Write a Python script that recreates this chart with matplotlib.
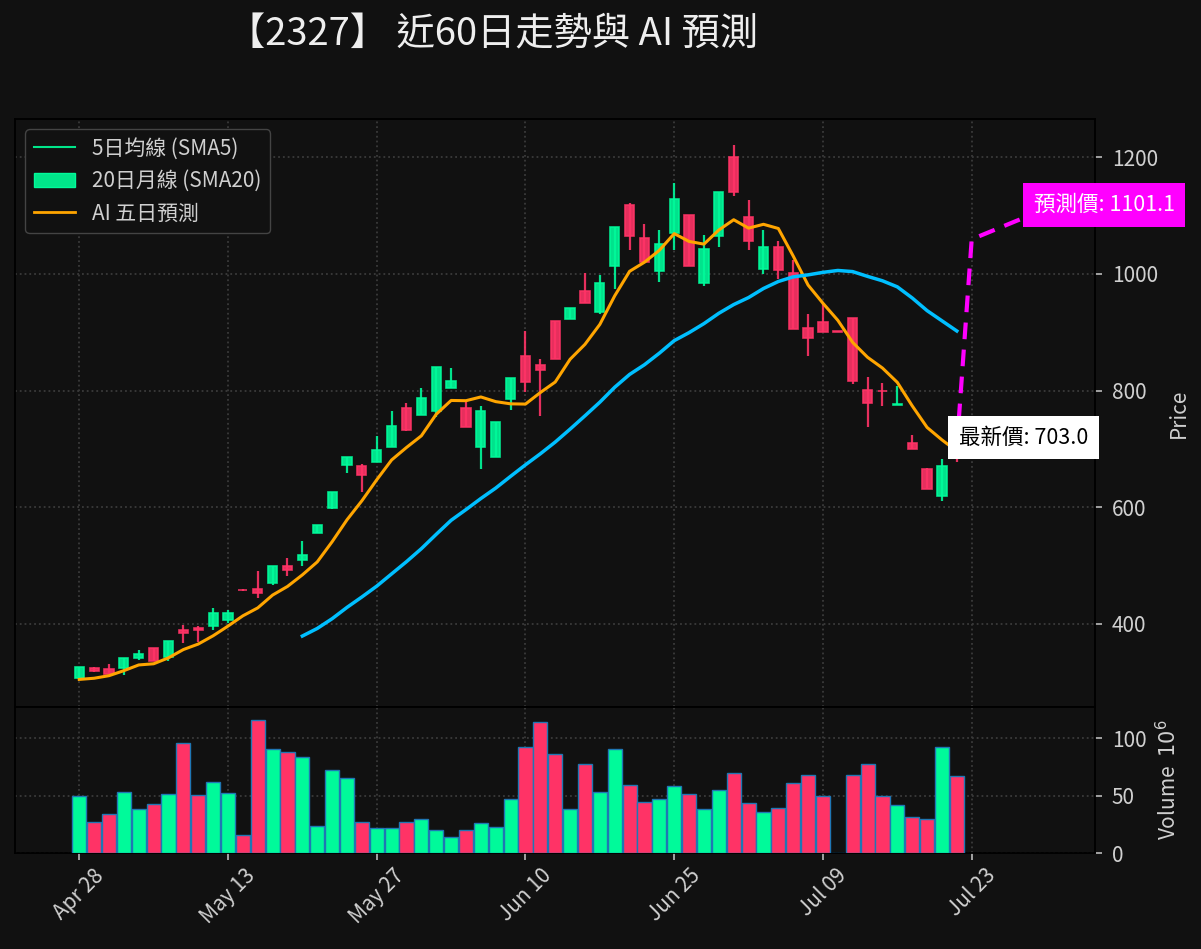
import matplotlib
matplotlib.use('Agg')
import matplotlib.pyplot as plt
import numpy as np
from matplotlib.lines import Line2D
from matplotlib.patches import Patch

plt.rcParams['font.family'] = ['Noto Sans CJK TC', 'DejaVu Sans']

# --- data (60 trading days) ---
opens  = [307, 324, 323, 324, 341, 358, 343, 390, 393, 396,
          406, 459, 460, 471, 499, 510, 556, 599, 673, 670,
          678, 704, 771, 759, 765, 804, 771, 703, 687, 785,
          860, 844, 920, 922, 971, 935, 1014, 1118, 1062, 1005,
          1071, 1101, 985, 1065, 1201, 1097, 1009, 1047, 1002, 908,
          917, 902, 924, 801, 800, 776, 711, 666, 620, 715]
highs  = [327, 327, 331, 342, 355, 359, 371, 398, 396, 427,
          424, 460, 490, 499, 513, 543, 569, 626, 687, 674,
          723, 765, 779, 805, 841, 838, 782, 773, 747, 822,
          902, 855, 920, 942, 1001, 998, 1081, 1121, 1085, 1076,
          1156, 1101, 1066, 1141, 1221, 1126, 1076, 1057, 1024, 931,
          948, 902, 924, 824, 813, 808, 724, 667, 682, 720]
lows   = [306, 317, 314, 313, 339, 336, 336, 368, 369, 389,
          402, 457, 445, 466, 483, 500, 556, 597, 658, 627,
          678, 704, 731, 759, 754, 804, 737, 666, 687, 767,
          798, 757, 855, 922, 950, 932, 975, 1041, 1020, 986,
          1041, 1014, 980, 1046, 1133, 1041, 1000, 991, 905, 859,
          900, 901, 812, 738, 774, 776, 700, 631, 610, 677]
closes = [326, 319, 314, 342, 348, 336, 370, 385, 389, 419,
          419, 458, 453, 499, 493, 518, 569, 626, 687, 656,
          698, 739, 733, 787, 841, 816, 737, 765, 747, 822,
          814, 836, 855, 942, 950, 985, 1081, 1065, 1020, 1052,
          1128, 1014, 1042, 1141, 1140, 1056, 1047, 1006, 905, 891,
          900, 901, 816, 778, 799, 777, 700, 631, 671, 703.0]
# closes of the 4 days before the window (needed for the moving averages)
prior_closes = [309, 292, 299, 299]
volumes = [49.3, 26.7, 33.6, 52.8, 38.0, 42.3, 51.0, 95.4, 50.2, 61.5,
           51.9, 15.4, 115.4, 90.2, 87.6, 83.2, 23.2, 71.9, 65.0, 26.7,
           22.0, 22.0, 26.7, 29.8, 20.3, 14.2, 19.7, 25.8, 22.9, 47.2,
           91.9, 113.6, 85.8, 38.6, 77.1, 53.3, 90.2, 58.8, 44.0, 46.7,
           58.0, 51.0, 38.6, 54.5, 69.3, 43.2, 35.9, 38.8, 60.6, 67.5,
           49.3, 0.0, 67.5, 77.7, 49.3, 41.4, 31.0, 29.8, 92.5, 66.7]
pred_prices = [1059.5, 1070.0, 1080.5, 1091.0, 1101.1]
tick_labels = ['Apr 28', 'May 13', 'May 27', 'Jun 10', 'Jun 25', 'Jul 09', 'Jul 23']

BG = '#111111'
UP = '#00fa9a'
DOWN = '#ff3366'
TXT = '#d0d0d0'
FS = 15

n = len(closes)
x = np.arange(n)
o = np.array(opens, float)
h = np.array(highs, float)
l = np.array(lows, float)
c = np.array(closes, float)
up = c >= o
cols = [UP if u else DOWN for u in up]

allc = np.concatenate([prior_closes, c])
sma5 = np.convolve(allc, np.ones(5) / 5, mode='valid')[-n:]
sma20 = np.convolve(allc, np.ones(20) / 20, mode='valid')
x20 = np.arange(n - len(sma20), n)

fig = plt.figure(figsize=(12.01, 9.49), dpi=100, facecolor=BG)
ax = fig.add_axes([15 / 1201, 1 - 707 / 949, 1080 / 1201, 588 / 949])
axv = fig.add_axes([15 / 1201, 1 - 853 / 949, 1080 / 1201, 146 / 949], sharex=ax)

for a in (ax, axv):
    a.set_facecolor(BG)
    for s in a.spines.values():
        s.set_color('black')
        s.set_linewidth(1.3)
    a.grid(True, color='#3a3a3a', linestyle=':', linewidth=1.3)
    a.set_axisbelow(True)
    a.yaxis.tick_right()
    a.yaxis.set_label_position('right')
    a.tick_params(colors='#bbbbbb', labelcolor=TXT, labelsize=FS, length=5, width=1.2)
    a.tick_params(axis='y', pad=7)

# candles
ax.vlines(x, l, h, colors=cols, linewidth=1.6, alpha=0.9, zorder=3)
body_h = np.abs(c - o)
ax.bar(x, body_h, bottom=np.minimum(o, c), width=0.62, color=cols,
       edgecolor=cols, linewidth=1.2, alpha=0.9, zorder=4)

ax.plot(x, sma5, color='orange', linewidth=2.2, zorder=5)
ax.plot(x20, sma20, color='#00bfff', linewidth=2.5, zorder=5)

px = np.concatenate([[n - 1], np.arange(n, n + len(pred_prices))])
py = np.concatenate([[c[-1]], pred_prices])
ax.plot(px, py, color='#ff00ff', linestyle='--', linewidth=3, dashes=(4, 2.5), zorder=6)

ax.text(63.5, 719.6, '最新價: %.1f' % c[-1], fontsize=15.5, color='black',
        ha='center', va='center', zorder=10,
        bbox=dict(boxstyle='square,pad=0.5', facecolor='white', edgecolor='none'))
ax.text(68.9, 1118.7, '預測價: %.1f' % pred_prices[-1], fontsize=15.5, color='white',
        ha='center', va='center', zorder=10, clip_on=False,
        bbox=dict(boxstyle='square,pad=0.5', facecolor='#ff00ff', edgecolor='none'))

ax.set_xlim(-4.32, 68.29)
ax.set_ylim(257.7, 1265.7)
ax.set_yticks([400, 600, 800, 1000, 1200])
ax.set_ylabel('Price', color=TXT, fontsize=FS, labelpad=7)
ax.tick_params(axis='x', bottom=False, labelbottom=False)

handles = [Line2D([], [], color='#00e68a', linewidth=1.5),
           Patch(facecolor='#00e68a', edgecolor=UP),
           Line2D([], [], color='orange', linewidth=2)]
labels = ['5日均線 (SMA5)', '20日月線 (SMA20)', 'AI 五日預測']
leg = ax.legend(handles, labels, loc='upper left', fontsize=FS,
                facecolor=BG, edgecolor='#444444', labelcolor=TXT, framealpha=1)

# volume
axv.bar(x, volumes, width=0.95, color=cols, edgecolor='#1f77b4', linewidth=1, zorder=3)
axv.set_ylim(0, 127)
axv.set_yticks([0, 50, 100])
axv.set_ylabel('Volume  $10^{6}$', color=TXT, fontsize=FS, labelpad=7)
axv.set_xticks(np.arange(0, 61, 10))
axv.set_xticklabels(tick_labels, rotation=45)

fig.text(493 / 1201, 1 - 35 / 949, '【2327】 近60日走勢與 AI 預測', fontsize=27.5,
         color='#eeeeee', ha='center', va='center')

fig.savefig('out.png', dpi=100, facecolor=BG)
